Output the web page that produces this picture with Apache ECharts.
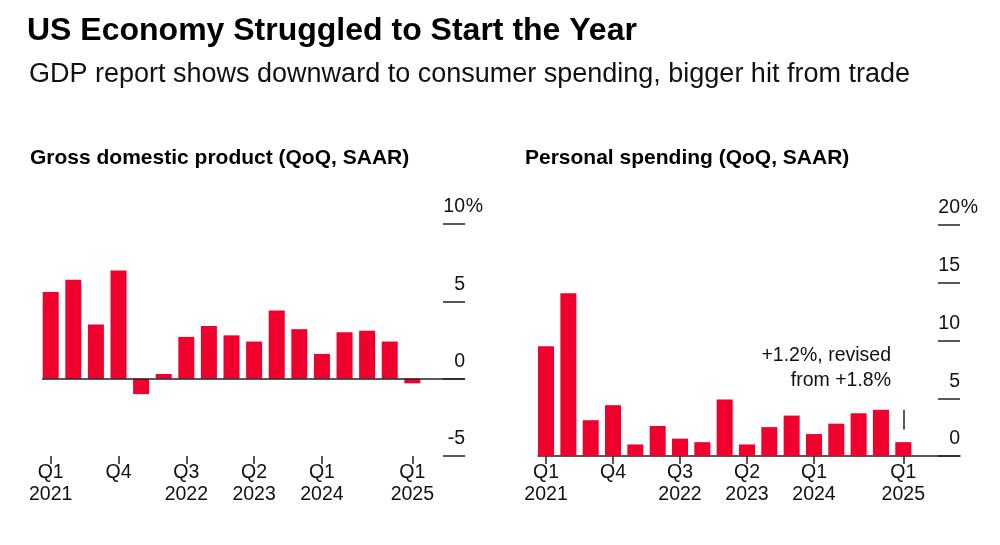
<!DOCTYPE html>
<html><head><meta charset="utf-8">
<script src="https://cdn.jsdelivr.net/npm/echarts@6/dist/echarts.min.js"></script>
<style>html,body{margin:0;padding:0;background:#fff}#c{width:1000px;height:545px}</style>
</head><body><div id="c"></div>
<script>
const quarters = ['Q1 2021','Q2 2021','Q3 2021','Q4 2021','Q1 2022','Q2 2022','Q3 2022','Q4 2022','Q1 2023','Q2 2023','Q3 2023','Q4 2023','Q1 2024','Q2 2024','Q3 2024','Q4 2024','Q1 2025'];
const gdp = [5.6, 6.4, 3.5, 7.0, -1.0, 0.3, 2.7, 3.4, 2.8, 2.4, 4.4, 3.2, 1.6, 3.0, 3.1, 2.4, -0.3];
const spending = [9.5, 14.1, 3.1, 4.4, 1.0, 2.6, 1.5, 1.2, 4.9, 1.0, 2.5, 3.5, 1.9, 2.8, 3.7, 4.0, 1.2];
const tickIdx = [0, 3, 6, 9, 12, 16];
const tickLabels = ['Q1\n2021', 'Q4', 'Q3\n2022', 'Q2\n2023', 'Q1\n2024', 'Q1\n2025'];
const gdpTicks = [-5, 0, 5, 10];
const spendTicks = [0, 5, 10, 15, 20];
const priorEstimate = 1.8;

const RED = '#f0002d';
const F = 'Liberation Sans';
const FS = 19.5;
const chart = echarts.init(document.getElementById('c'));

function xAxis(gi, min, max) {
  return {
    type: 'value', gridIndex: gi, min, max,
    axisLine: {show: gi === 1, onZero: false, lineStyle: {color: '#222', width: 1.5}},
    splitLine: {show: false},
    axisTick: {show: true, customValues: tickIdx, length: 8, lineStyle: {color: '#222', width: 1.5}},
    axisLabel: {customValues: tickIdx, fontFamily: F, fontSize: FS, color: '#111', lineHeight: 22, margin: 6,
      formatter: v => tickLabels[tickIdx.indexOf(Math.round(v))] || ''}
  };
}
function yAxis(gi, min, max, ticks) {
  return {
    type: 'value', gridIndex: gi, position: 'right', min, max, interval: 5,
    axisLine: {show: false, onZero: false}, splitLine: {show: false},
    axisTick: {show: true, inside: true, length: 22, lineStyle: {color: '#222', width: 1.5}},
    axisLabel: {inside: true, margin: -18, fontFamily: F, fontSize: FS, color: '#111',
      verticalAlign: 'bottom', padding: [0, 0, 7, 0],
      formatter: v => '{n|' + v + '}{p|' + (v === max ? '%' : '') + '}',
      rich: {n: {fontFamily: F, fontSize: FS, color: '#111'}, p: {fontFamily: F, fontSize: FS, color: '#111', width: 18, align: 'right'}}
    }
  };
}

chart.setOption({
  animation: false,
  textStyle: {fontFamily: F},
  title: [
    {text: 'US Economy Struggled to Start the Year', left: 22, top: 10, textStyle: {fontFamily: F, fontWeight: 'bold', fontSize: 32, color: '#000'}},
    {text: 'GDP report shows downward to consumer spending, bigger hit from trade', left: 24, top: 56, textStyle: {fontFamily: F, fontWeight: 'normal', fontSize: 27, color: '#111'}},
    {text: 'Gross domestic product (QoQ, SAAR)', left: 25, top: 143, textStyle: {fontFamily: F, fontWeight: 'bold', fontSize: 21, color: '#000'}},
    {text: 'Personal spending (QoQ, SAAR)', left: 520, top: 143, textStyle: {fontFamily: F, fontWeight: 'bold', fontSize: 21, color: '#000'}}
  ],
  grid: [
    {left: 42, width: 423, top: 224, height: 232},
    {left: 538, width: 422, top: 225, height: 231}
  ],
  xAxis: [xAxis(0, -0.385, 18.33), xAxis(1, -0.36, 18.54)],
  yAxis: [yAxis(0, -5, 10, gdpTicks), yAxis(1, 0, 20, spendTicks)],
  graphic: [{
    type: 'text', x: 891, y: 343,
    style: {text: '+1.2%, revised\nfrom +1.8%', fontFamily: F, fontSize: FS, fill: '#111', lineHeight: 25, align: 'right'}
  }],
  series: [
    {type: 'bar', xAxisIndex: 0, yAxisIndex: 0, barWidth: 16, itemStyle: {color: RED},
      data: gdp.map((v, i) => [i, v]),
      markLine: {silent: true, symbol: 'none', label: {show: false}, lineStyle: {color: '#222', width: 1.5, type: 'solid'}, data: [{yAxis: 0}]}},
    {type: 'bar', xAxisIndex: 1, yAxisIndex: 1, barWidth: 16, itemStyle: {color: RED},
      data: spending.map((v, i) => [i, v]),
      markLine: {silent: true, symbol: 'none', label: {show: false}, lineStyle: {color: '#222', width: 1.5, type: 'solid'},
        data: [[{coord: [16, priorEstimate + 0.5]}, {coord: [16, priorEstimate + 2.2]}]]}}
  ]
});
</script></body></html>
